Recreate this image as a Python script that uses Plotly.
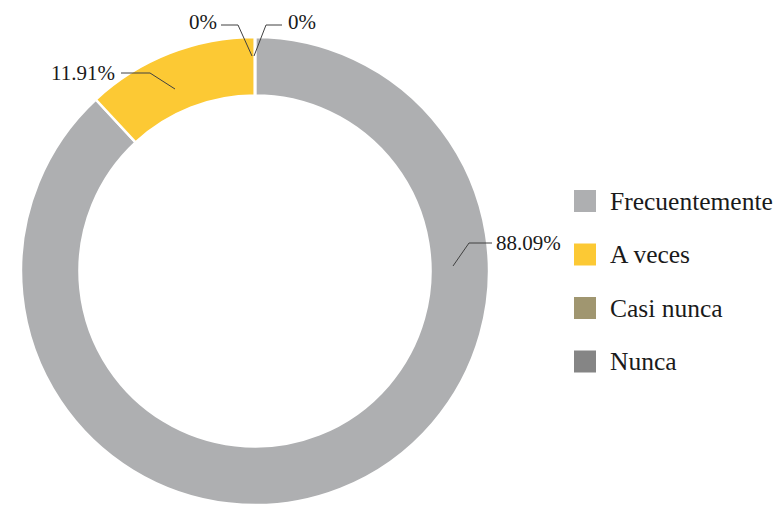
import plotly.graph_objects as go

categories = ["Frecuentemente", "A veces", "Casi nunca", "Nunca"]
values = [88.09, 11.91, 0, 0]
colors = ["#AEAFB1", "#FCC934", "#A09670", "#858585"]
label_texts = ["88.09%", "11.91%", "0%", "0%"]

W, H = 776, 505
cx, cy, R = 255, 271, 234

def px(x):
    return x / W

def py(y):
    return 1 - y / H

fig = go.Figure()
fig.add_trace(go.Pie(
    labels=categories,
    values=values,
    hole=0.75,
    sort=False,
    direction="clockwise",
    rotation=0,
    marker=dict(colors=colors, line=dict(color="white", width=2.5)),
    textinfo="none",
    hoverinfo="label+percent",
    showlegend=False,
    domain=dict(x=[px(cx - R), px(cx + R)], y=[py(cy + R), py(cy - R)]),
))

# Data labels with leader lines (label positions in pixels)
label_specs = [
    (label_texts[0], 494, 243, "left", [(453, 266), (469, 243), (492, 243)]),
    (label_texts[1], 117, 73, "right", [(175, 89), (150, 73), (121, 73)]),
    (label_texts[2], 219, 22, "right", [(252, 56), (238, 25), (221, 25)]),
    (label_texts[3], 286, 22, "left", [(254, 56), (266, 25), (282, 25)]),
]
font_family = "Liberation Serif, Times New Roman, serif"
for txt, tx, ty, anchor, path in label_specs:
    fig.add_annotation(x=px(tx), y=py(ty), xref="paper", yref="paper",
                       text=txt, showarrow=False, xanchor=anchor, yanchor="middle",
                       font=dict(family=font_family, size=21, color="#1a1a1a"))
    d = "M " + " L ".join(f"{px(x)},{py(y)}" for x, y in path)
    fig.add_shape(type="path", path=d, xref="paper", yref="paper",
                  line=dict(color="#404040", width=1))

# Legend (manual)
leg_x0, leg_y0, leg_dy, sq = 574, 201, 53.5, 22
for i, (cat, col) in enumerate(zip(categories, colors)):
    yc = leg_y0 + i * leg_dy
    fig.add_shape(type="rect", xref="paper", yref="paper",
                  x0=px(leg_x0), x1=px(leg_x0 + sq),
                  y0=py(yc + sq / 2), y1=py(yc - sq / 2),
                  fillcolor=col, line=dict(width=0))
    fig.add_annotation(x=px(608), y=py(yc), xref="paper", yref="paper",
                       text=cat, showarrow=False, xanchor="left", yanchor="middle",
                       font=dict(family=font_family, size=25.5, color="#1a1a1a"))

fig.update_layout(
    width=W, height=H,
    margin=dict(l=0, r=0, t=0, b=0),
    paper_bgcolor="white",
    plot_bgcolor="white",
)

fig.write_html("out.html", config={"displayModeBar": False},
               post_script="document.body.style.margin='0';document.body.style.overflow='hidden';")
